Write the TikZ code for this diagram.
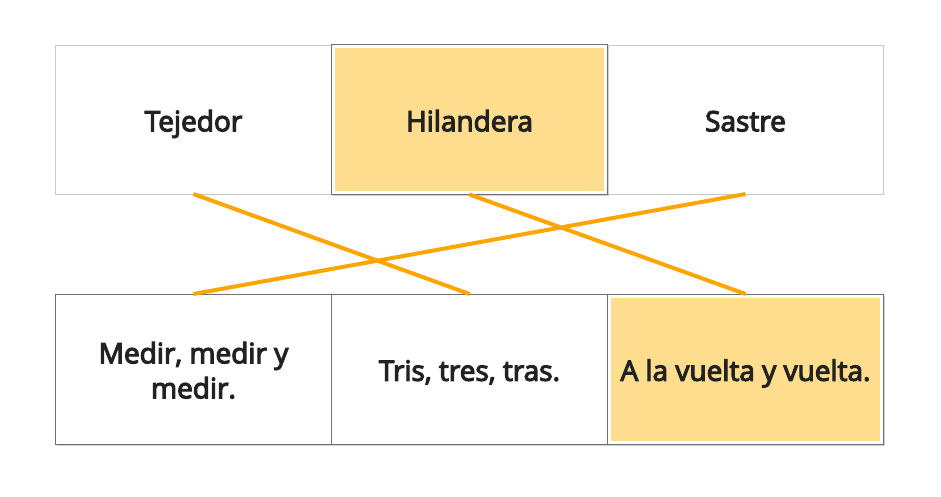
\documentclass[tikz,border=0pt]{standalone}
\usepackage{fontspec}
\setmainfont{Open Sans}[FakeBold=4]
\usetikzlibrary{shadows}

\begin{document}
\begin{tikzpicture}[x=1pt,y=-1pt]
  % Color definitions
  \definecolor{hilite}{RGB}{254,221,142}  % pale yellow
  \definecolor{link}{RGB}{255,165,0}      % orange
  \definecolor{thinline}{RGB}{200,200,200}
  \definecolor{boxline}{RGB}{112,112,112}
  \definecolor{ink}{RGB}{34,34,34}

  \tikzset{
    cell/.style={rectangle, inner sep=0pt, outer sep=0pt,
      minimum width=276pt, minimum height=150pt, align=center,
      text height=23.5pt, text depth=0pt,
      text=ink, font=\fontsize{28}{35}\selectfont},
    plain/.style={cell, draw=thinline, fill=white},
    framed/.style={cell, draw=boxline, fill=white,
      drop shadow={shadow xshift=1pt, shadow yshift=-1.5pt, fill=black!35}},
    picked/.style={framed, path picture={
      \fill[hilite] ([shift={(3.5pt,-3.5pt)}]path picture bounding box.north west)
        rectangle ([shift={(-3.5pt,3.5pt)}]path picture bounding box.south east);}},
    match/.style={draw=link, line width=4pt}
  }

  \useasboundingbox (0,0) rectangle (941,497);

  % Top row
  \node[plain, minimum height=149pt] (tejedor) at (193.5,119.5) {Tejedor};
  \node[plain, minimum height=149pt] (sastre) at (745.5,119.5) {Sastre};
  \node[picked] (hilandera) at (469.5,119.5) {Hilandera};

  % Bottom row
  \node[framed, text height=58.5pt] (medir) at (193.5,369) {Medir, medir y\\medir.};
  \node[framed] (tris) at (469.5,369) {Tris, tres, tras.};
  \node[picked] (vuelta) at (745.5,369) {A la vuelta y vuelta.};

  % Matching lines
  \draw[match] (tejedor.south) -- (tris.north);
  \draw[match] (hilandera.south) -- (vuelta.north);
  \draw[match] (sastre.south) -- (medir.north);
\end{tikzpicture}
\end{document}
